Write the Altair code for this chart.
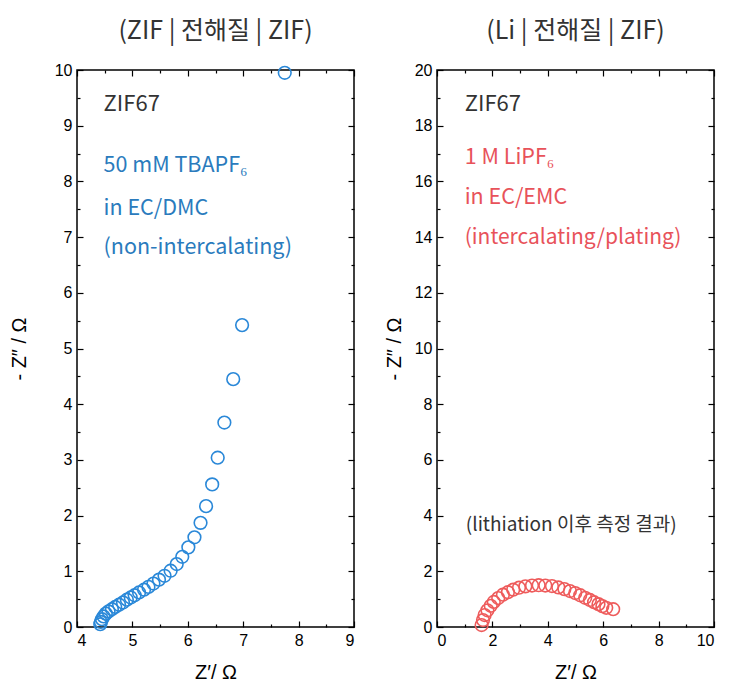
import altair as alt
import pandas as pd

# ---------------- data ----------------
left_x = [4.42, 4.43, 4.45, 4.48, 4.52, 4.57, 4.63, 4.69, 4.76, 4.83, 4.90, 4.97,
          5.04, 5.12, 5.21, 5.29, 5.38, 5.48, 5.58, 5.69, 5.80, 5.90, 6.01, 6.12,
          6.23, 6.33, 6.44, 6.54, 6.66, 6.82, 6.98, 7.75]
left_y = [0.05, 0.09, 0.14, 0.19, 0.24, 0.28, 0.32, 0.36, 0.40, 0.44, 0.49, 0.53,
          0.57, 0.62, 0.67, 0.72, 0.78, 0.85, 0.92, 1.01, 1.13, 1.26, 1.43, 1.61,
          1.87, 2.17, 2.56, 3.04, 3.67, 4.45, 5.42, 9.95]

right_x = [1.61, 1.66, 1.72, 1.82, 1.94, 2.05, 2.21, 2.38, 2.56, 2.75, 2.96, 3.19,
           3.43, 3.67, 3.91, 4.15, 4.38, 4.60, 4.80, 4.99, 5.17, 5.35, 5.52, 5.67,
           5.83, 5.97, 6.11, 6.36]
right_y = [0.07, 0.25, 0.43, 0.60, 0.76, 0.90, 1.04, 1.16, 1.25, 1.34, 1.41, 1.46,
           1.49, 1.50, 1.49, 1.47, 1.42, 1.36, 1.29, 1.22, 1.14, 1.05, 0.97, 0.89,
           0.82, 0.75, 0.69, 0.64]

left_title = "(ZIF | 전해질 | ZIF)"
right_title = "(Li | 전해질 | ZIF)"

left_notes = ["ZIF67", "50 mM TBAPF₆", "in EC/DMC", "(non-intercalating)"]
left_note_x = [4.48, 4.48, 4.48, 4.48]
left_note_y = [9.39, 8.28, 7.51, 6.80]
left_note_size = [22, 21.5, 21.5, 21.5]
left_note_color = ["#333333", "#2a7bbd", "#2a7bbd", "#2a7bbd"]

right_notes = ["ZIF67", "1 M LiPF₆", "in EC/EMC", "(intercalating/plating)",
               "(lithiation 이후 측정 결과)"]
right_note_x = [1.0, 1.0, 1.0, 1.0, 1.04]
right_note_y = [18.78, 16.85, 15.42, 13.95, 3.65]
right_note_size = [22, 21.5, 21.5, 21, 19]
right_note_color = ["#333333", "#e8525a", "#e8525a", "#e8525a", "#333333"]

BLUE = "#2a88d8"
RED = "#ee5b5b"
FONT_CJK = "Noto Sans CJK KR"
FONT_NUM = "Liberation Sans"

W, H = 277, 557


def axis(orient, values, size, labels=False, title=None, tp=None):
    kw = dict(orient=orient, values=values, tickSize=size, offset=-size,
              domain=False, grid=False, ticks=True, tickColor="black",
              tickWidth=1.2, labels=labels)
    if labels:
        kw.update(labelPadding=5, labelFont=FONT_NUM, labelFontSize=16,
                  labelColor="black")
    if title is not None:
        kw.update(title=title, titlePadding=tp, titleFont=FONT_NUM,
                  titleFontSize=20, titleFontWeight="normal", titleColor="black")
    else:
        kw.update(title=None)
    return alt.Axis(**kw)


def panel(xs, ys, color, xdom, ydom, xmaj, xmin, ymaj, ymin,
          notes, nx, ny, nsize, ncol, title, ytp):
    df = pd.DataFrame({"x": xs, "y": ys})
    xsc = alt.Scale(domain=xdom, nice=False, zero=False)
    ysc = alt.Scale(domain=ydom, nice=False, zero=False)
    base = alt.Chart(df)

    pts = base.mark_point(shape="circle", filled=False, size=160,
                          strokeWidth=1.6, color=color, opacity=1).encode(
        x=alt.X("x:Q", scale=xsc,
                axis=axis("bottom", xmaj, 6, labels=True, title="Z′/ Ω", tp=14)),
        y=alt.Y("y:Q", scale=ysc,
                axis=axis("left", ymaj, 6, labels=True, title="- Z″ / Ω", tp=ytp)),
    )
    ghost = base.mark_point(opacity=0)
    top_major = ghost.encode(
        x=alt.X("x:Q", scale=xsc, axis=axis("top", xmaj, 6)),
        y=alt.Y("y:Q", scale=ysc, axis=axis("right", ymaj, 6)),
    )
    minor_bl = ghost.encode(
        x=alt.X("x:Q", scale=xsc, axis=axis("bottom", xmin, 3)),
        y=alt.Y("y:Q", scale=ysc, axis=axis("left", ymin, 3)),
    )
    minor_tr = ghost.encode(
        x=alt.X("x:Q", scale=xsc, axis=axis("top", xmin, 3)),
        y=alt.Y("y:Q", scale=ysc, axis=axis("right", ymin, 3)),
    )
    ndf = pd.DataFrame({"t": notes, "x": nx, "y": ny, "s": nsize, "c": ncol})
    txt = alt.Chart(ndf).mark_text(align="left", baseline="middle",
                                   font=FONT_CJK).encode(
        x=alt.X("x:Q", scale=xsc, axis=None),
        y=alt.Y("y:Q", scale=ysc, axis=None),
        text="t:N",
        size=alt.Size("s:Q", scale=None),
        color=alt.Color("c:N", scale=None),
    )
    return alt.layer(pts, top_major, minor_bl, minor_tr, txt).resolve_axis(
        x="independent", y="independent"
    ).properties(
        width=W, height=H,
        title=alt.TitleParams(title, font=FONT_CJK, fontSize=25,
                              fontWeight="normal", color="#333333", offset=18,
                              anchor="middle"),
    )


left = panel(left_x, left_y, BLUE, [4, 9], [0, 10],
             [4, 5, 6, 7, 8, 9], [4.5, 5.5, 6.5, 7.5, 8.5],
             list(range(0, 11)), [i + 0.5 for i in range(10)],
             left_notes, left_note_x, left_note_y, left_note_size, left_note_color,
             left_title, 25)
right = panel(right_x, right_y, RED, [0, 10], [0, 20],
              [0, 2, 4, 6, 8, 10], [1, 3, 5, 7, 9],
              list(range(0, 21, 2)), list(range(1, 20, 2)),
              right_notes, right_note_x, right_note_y, right_note_size,
              right_note_color, right_title, 10)

chart = alt.hconcat(
    left, right, spacing=27,
    padding={"left": 0, "top": 10, "right": 0, "bottom": 0},
    background="white",
).configure_view(stroke="black", strokeWidth=1.5)

chart.save("out.html", embed_options={"renderer": "svg", "actions": False})
